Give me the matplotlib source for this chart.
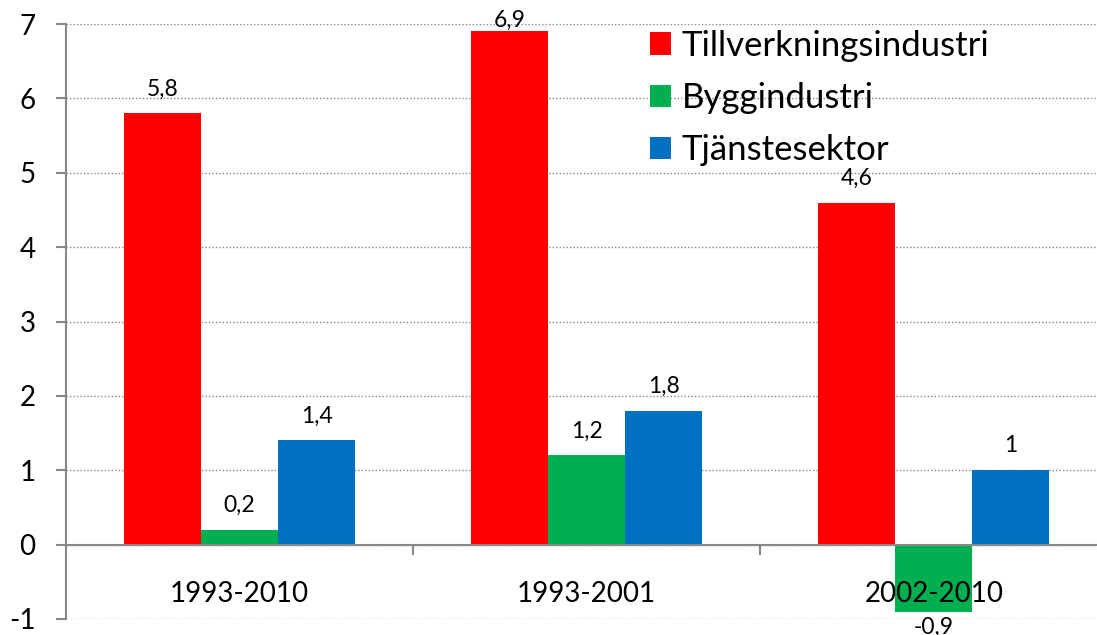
import matplotlib.pyplot as plt
import numpy as np

categories = ['1993-2010', '1993-2001', '2002-2010']
series_names = ['Tillverkningsindustri', 'Byggindustri', 'Tjänstesektor']
tillverkning = [5.8, 6.9, 4.6]
bygg = [0.2, 1.2, -0.9]
tjanst = [1.4, 1.8, 1.0]
colors = ['#FF0000', '#00B050', '#0070C0']

plt.rcParams['font.family'] = ['Lato', 'DejaVu Sans']
plt.rcParams['axes.unicode_minus'] = False

fig = plt.figure(figsize=(10.97, 6.35), dpi=100)
ax = fig.add_axes([0.0602, 0.0252, 0.9398, 0.937])

x = np.arange(len(categories))
w = 0.222
grey = '#888888'
ymin, ymax = -1, 7


def fmt(v):
    return ('%g' % v).replace('.', ',')


# points between top of axes and top of figure
fig_h_pt = 6.35 * 72
head_pt = (1 - 0.0252 - 0.937) * fig_h_pt
pt_per_unit = 0.937 * fig_h_pt / (ymax - ymin)
label_h = 15

for i, (vals, name) in enumerate(zip([tillverkning, bygg, tjanst], series_names)):
    bars = ax.bar(x + (i - 1) * w, vals, w, color=colors[i], label=name, zorder=3)
    for b, v in zip(bars, vals):
        if v >= 0:
            # keep the label inside the figure, like excel does
            room = head_pt + (ymax - v) * pt_per_unit - label_h - 8
            off = min(10, max(room, 0.5))
        else:
            off = -4
        ax.annotate(fmt(v), (b.get_x() + b.get_width() / 2, v),
                    xytext=(0, off), textcoords='offset points',
                    ha='center', va='bottom' if v >= 0 else 'top',
                    fontsize=16.5, color='black', annotation_clip=False, zorder=6)

# category labels drawn above the bars, like the original
for xi, cat in zip(x, categories):
    ax.annotate(cat, (xi, 0), xytext=(0, -35.5), textcoords='offset points',
                ha='center', va='center', fontsize=20, zorder=6)

ax.set_xlim(-0.5, 2.47)
ax.set_ylim(ymin, ymax)
ax.set_yticks(range(ymin, ymax + 1))
ax.yaxis.grid(True, linestyle=(0, (1, 1.5)), color=grey, linewidth=1.0)
ax.set_axisbelow(True)

for s in ['top', 'right']:
    ax.spines[s].set_visible(False)
ax.spines['left'].set_color(grey)
ax.spines['left'].set_linewidth(1.5)
ax.spines['bottom'].set_position(('data', 0))
ax.spines['bottom'].set_color(grey)
ax.spines['bottom'].set_linewidth(1.5)
ax.spines['bottom'].set_zorder(5)

ax.tick_params(axis='y', length=7, width=1.5, color=grey, pad=15, labelsize=20)
ax.set_xticks([])
ax.set_xticks([0.5, 1.5], minor=True)
ax.tick_params(axis='x', which='minor', length=7, width=1.5, color=grey, direction='out')

ax.legend(loc='upper left', bbox_to_anchor=(0.58, 0.975), bbox_transform=fig.transFigure,
          frameon=False, fontsize=25, handlelength=0.6, handleheight=0.6,
          handletextpad=0.3, labelspacing=0.58, borderaxespad=0)

fig.savefig('out.png', dpi=100)
